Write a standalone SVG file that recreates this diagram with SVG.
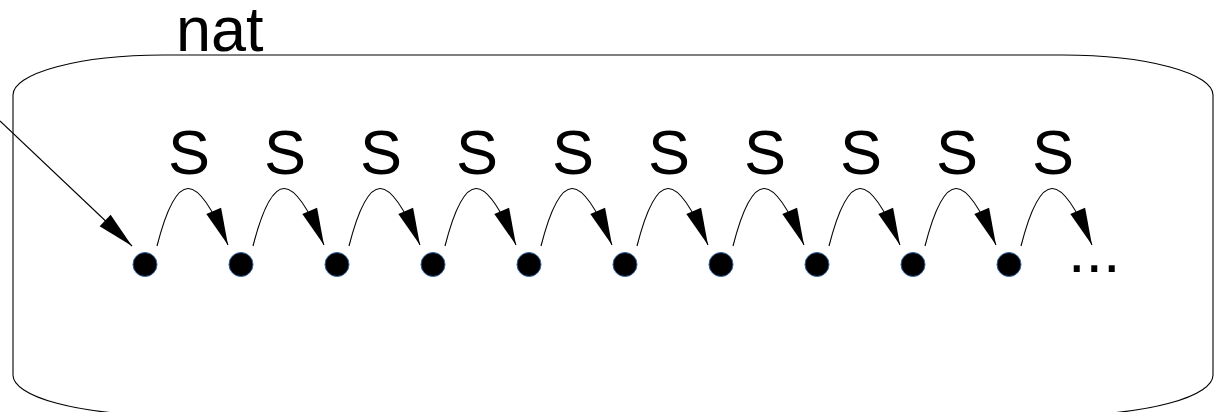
<svg xmlns="http://www.w3.org/2000/svg" width="1220" height="412" viewBox="0 0 1220 412">
  <style>
    .label { font-family: "Liberation Sans", Arial, sans-serif; font-size: 63px; fill: #000; }
    .edge { fill: none; stroke: #000; stroke-width: 1.1; }
    .node { fill: #000; stroke: #3465a4; stroke-width: 1; }
    .frame { fill: #fff; stroke: #000; stroke-width: 1.1; }
  </style>
  <defs>
    <marker id="head" markerUnits="userSpaceOnUse" markerWidth="38" markerHeight="16" refX="37" refY="8" orient="auto" overflow="visible">
      <path d="M0,0 L37,8 L0,16 z" fill="#000"/>
    </marker>
  </defs>

  <!-- container set "nat" -->
  <g id="nat">
    <rect class="frame" x="13" y="55" width="1200" height="360" rx="150" ry="40"/>
    <text class="label" x="176" y="51">nat</text>
  </g>

  <!-- elements of the set -->
  <g id="n0"><circle class="node" cx="145" cy="264.5" r="12"/></g>
  <g id="n1"><circle class="node" cx="241" cy="264.5" r="12"/></g>
  <g id="n2"><circle class="node" cx="337" cy="264.5" r="12"/></g>
  <g id="n3"><circle class="node" cx="433" cy="264.5" r="12"/></g>
  <g id="n4"><circle class="node" cx="529" cy="264.5" r="12"/></g>
  <g id="n5"><circle class="node" cx="625" cy="264.5" r="12"/></g>
  <g id="n6"><circle class="node" cx="721" cy="264.5" r="12"/></g>
  <g id="n7"><circle class="node" cx="817" cy="264.5" r="12"/></g>
  <g id="n8"><circle class="node" cx="913" cy="264.5" r="12"/></g>
  <g id="n9"><circle class="node" cx="1009" cy="264.5" r="12"/></g>
  <g id="more"><text class="label" x="1068" y="272">...</text></g>

  <!-- successor arcs -->
  <g id="connectors">
    <line class="edge" x1="0" y1="121" x2="132" y2="246" marker-end="url(#head)"/>
    <path class="edge" marker-end="url(#head)" d="M157,246 C177,168 197,171 228,245"/>
    <path class="edge" marker-end="url(#head)" d="M253,246 C273,168 293,171 324,245"/>
    <path class="edge" marker-end="url(#head)" d="M349,246 C369,168 389,171 420,245"/>
    <path class="edge" marker-end="url(#head)" d="M445,246 C465,168 485,171 516,245"/>
    <path class="edge" marker-end="url(#head)" d="M541,246 C561,168 581,171 612,245"/>
    <path class="edge" marker-end="url(#head)" d="M637,246 C657,168 677,171 708,245"/>
    <path class="edge" marker-end="url(#head)" d="M733,246 C753,168 773,171 804,245"/>
    <path class="edge" marker-end="url(#head)" d="M829,246 C849,168 869,171 900,245"/>
    <path class="edge" marker-end="url(#head)" d="M925,246 C945,168 965,171 996,245"/>
    <path class="edge" marker-end="url(#head)" d="M1021,246 C1041,168 1061,171 1092,245"/>
  </g>

  <!-- arc labels -->
  <g id="labels">
    <text class="label" text-anchor="middle" x="189" y="174">S</text>
    <text class="label" text-anchor="middle" x="285" y="174">S</text>
    <text class="label" text-anchor="middle" x="381" y="174">S</text>
    <text class="label" text-anchor="middle" x="477" y="174">S</text>
    <text class="label" text-anchor="middle" x="573" y="174">S</text>
    <text class="label" text-anchor="middle" x="669" y="174">S</text>
    <text class="label" text-anchor="middle" x="765" y="174">S</text>
    <text class="label" text-anchor="middle" x="861" y="174">S</text>
    <text class="label" text-anchor="middle" x="957" y="174">S</text>
    <text class="label" text-anchor="middle" x="1053" y="174">S</text>
  </g>
</svg>
